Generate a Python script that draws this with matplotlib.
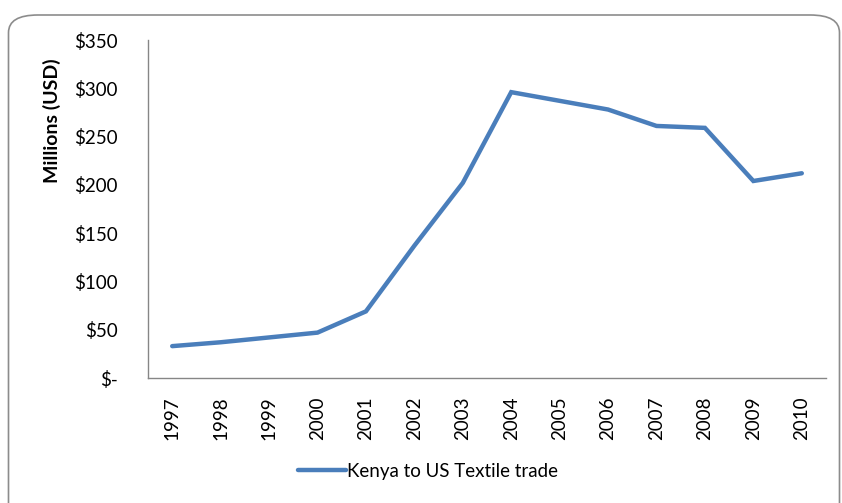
import matplotlib
matplotlib.use("Agg")
import matplotlib.pyplot as plt
from matplotlib.patches import FancyBboxPatch

years = ["1997", "1998", "1999", "2000", "2001", "2002", "2003", "2004",
         "2005", "2006", "2007", "2008", "2009", "2010"]
values = [33, 37, 42, 47, 69, 137, 202, 296, 287, 278, 261, 259, 204, 212]
yticks = [0, 50, 100, 150, 200, 250, 300, 350]
ytick_labels = ["$-", "$50", "$100", "$150", "$200", "$250", "$300", "$350"]
series_name = "Kenya to US Textile trade"

plt.rcParams['font.family'] = ['Lato', 'DejaVu Sans']

W, H = 842, 503
fig = plt.figure(figsize=(W / 100, H / 100), dpi=100)

# rounded frame (bottom edge runs off the image, as in the reference)
frame = FancyBboxPatch((8.5 / W, -40 / H), (W - 11) / W, (H - 15 + 40) / H,
                       boxstyle="round,pad=0,rounding_size=0.035",
                       transform=fig.transFigure, fill=False,
                       edgecolor="#8c8c8c", linewidth=1.2)
fig.patches.append(frame)

ax = fig.add_axes([148 / W, 1 - 378 / H, (826 - 148) / W, (378 - 40) / H])
x = list(range(len(years)))
ax.plot(x, values, color="#4A7EBB", linewidth=3.2, solid_capstyle="round",
        solid_joinstyle="miter", label=series_name)
ax.set_xlim(-0.5, len(years) - 0.5)
ax.set_ylim(0, 350)
ax.set_yticks(yticks)
ax.set_yticklabels(ytick_labels, fontsize=13.5)
ax.set_xticks(x)
ax.set_xticklabels(years, rotation=90, fontsize=13.5)
ax.tick_params(axis="x", length=0, pad=13)
ax.tick_params(axis="y", length=0, pad=22)
for s in ["top", "right"]:
    ax.spines[s].set_visible(False)
for s in ["left", "bottom"]:
    ax.spines[s].set_color("#868686")
    ax.spines[s].set_linewidth(1.0)
ax.set_ylabel("Millions (USD)", fontsize=14, fontweight="bold")
ax.yaxis.set_label_coords((61 - 148) / (826 - 148), (378 - 121) / (378 - 40))

fig.legend(loc="center left", bbox_to_anchor=(290 / W, 1 - 471 / H), frameon=False,
           fontsize=13.5, handlelength=2.6, handletextpad=0.05, borderaxespad=0)

fig.savefig("out.png", dpi=100)
